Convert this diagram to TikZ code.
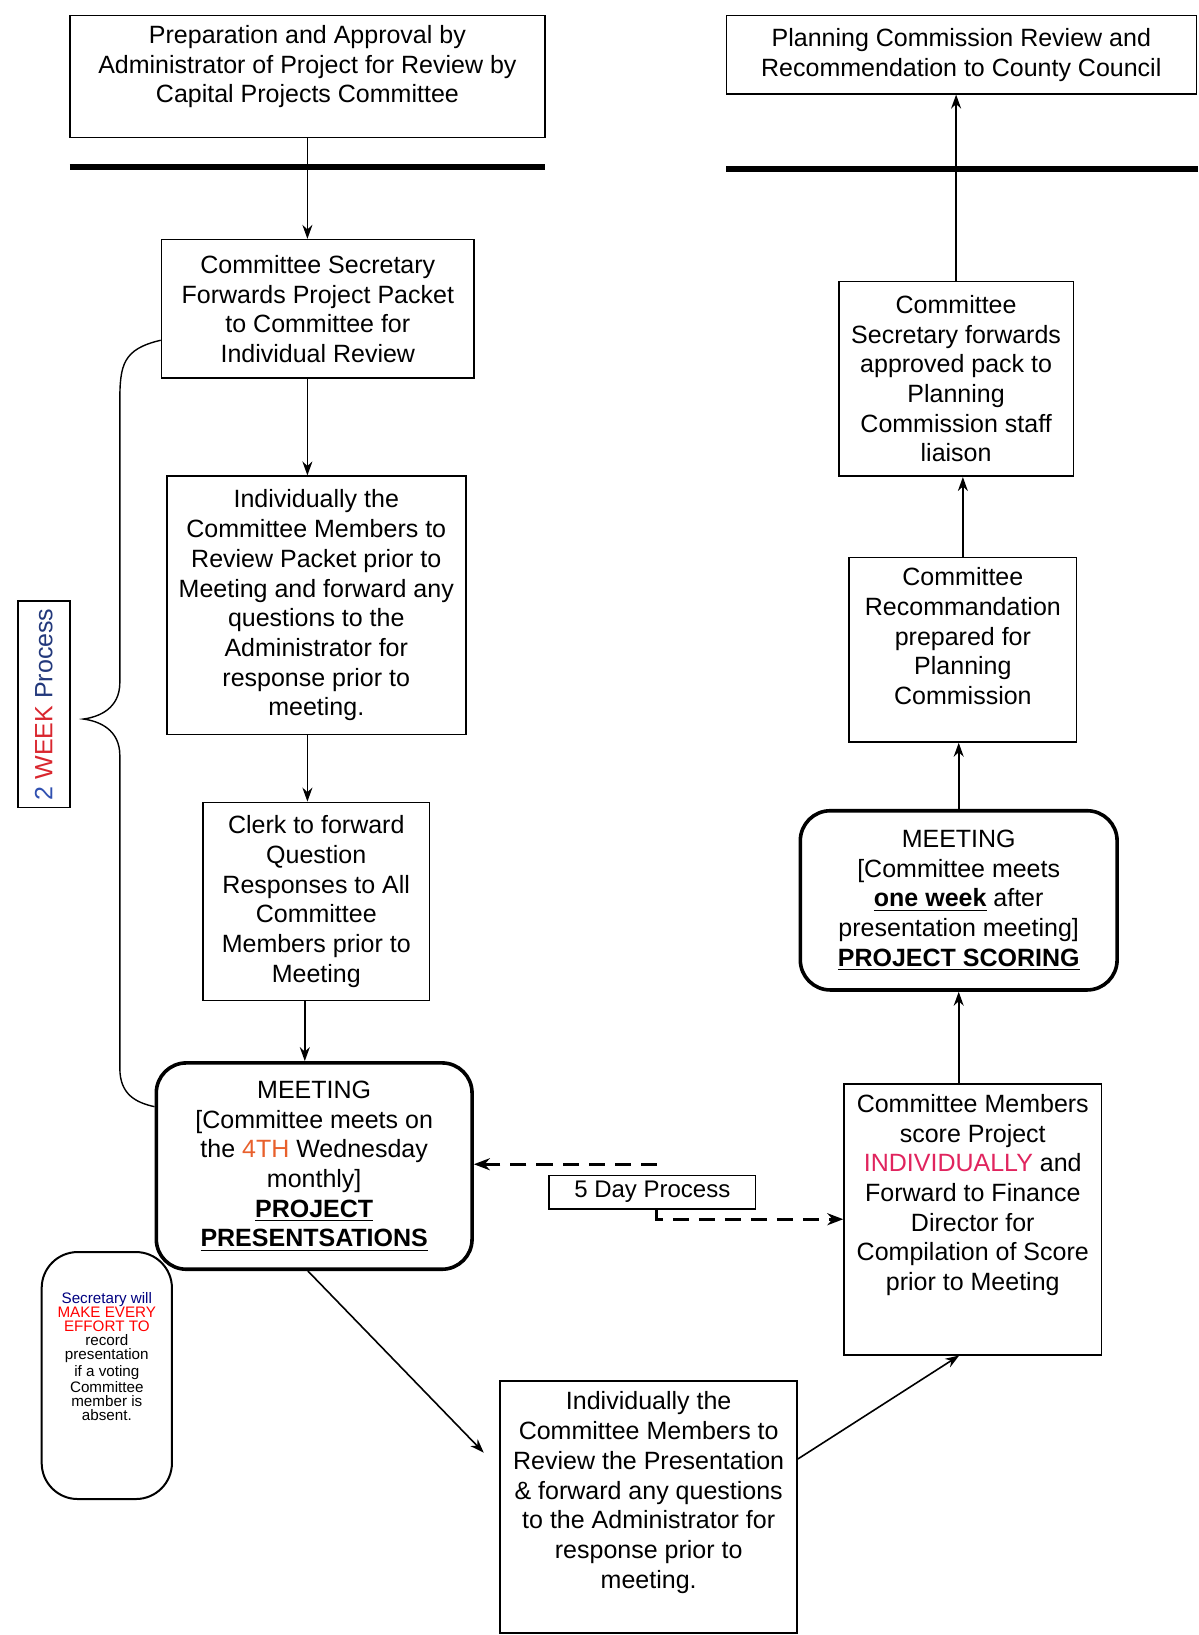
\documentclass[tikz,border=0pt]{standalone}
\usepackage{fontspec}
\setmainfont{Liberation Sans}
\usetikzlibrary{arrows.meta,calc}
\definecolor{fourth}{HTML}{E8602C}
\definecolor{indiv}{HTML}{E0245E}
\definecolor{weekred}{HTML}{D9262E}
\definecolor{weekblue}{HTML}{3050B0}
\newcommand\fs{\fontsize{12.5pt}{14.85pt}\selectfont}
\newcommand\fsmall{\fontsize{7.6pt}{7pt}\selectfont}
\def\pu{0.521pt}
\tikzset{
  box/.style={draw, line width=0.8pt, align=center, inner sep=2pt, font=\fs},
  meet/.style={box, line width=1.8pt, rounded corners=15pt},
  arr/.style={-{Stealth[length=7pt,width=5pt]}, line width=0.8pt},
  bar/.style={line width=3pt},
  dasharr/.style={dash pattern=on 8pt off 5pt, line width=1.4pt, -{Stealth[length=8pt,width=6pt]}},
  bracestyle/.style={line width=0.7pt},
}
\begin{document}
\begin{tikzpicture}[x=0.521pt, y=-0.521pt]
\useasboundingbox (0,0) rectangle (1150,1569);

% left column
\node[box, minimum width=456*\pu, minimum height=117*\pu] (A) at (295,73.5)
  {Preparation and Approval by\\Administrator of Project for Review by\\Capital Projects Committee\\[-2.3pt]\mbox{}};
\draw[bar] (67,160) -- (523,160);
\node[box, minimum width=300*\pu, minimum height=133*\pu] (B) at (305,296.5)
  {Committee Secretary\\Forwards Project Packet\\to Committee for\\Individual Review};
\node[box, minimum width=287*\pu, minimum height=248*\pu] (C) at (303.5,581)
  {Individually the\\Committee Members to\\Review Packet prior to\\Meeting and forward any\\questions to the\\Administrator for\\response prior to\\meeting.};
\node[box, minimum width=217*\pu, minimum height=190*\pu] (D) at (303.5,865)
  {Clerk to forward\\Question\\Responses to All\\Committee\\Members prior to\\Meeting};
\node[meet, minimum width=303*\pu, minimum height=198*\pu] (M1) at (301.5,1119)
  {MEETING\\{[}Committee meets on\\the \textcolor{fourth}{4TH} Wednesday\\monthly]\\\textbf{\underline{PROJECT}}\\\textbf{\underline{PRESENTSATIONS}}};
\node[draw, line width=1pt, rounded corners=18pt, minimum width=125*\pu, minimum height=237*\pu, align=center, inner sep=1pt, font=\fsmall] (E) at (102.5,1320)
  {\textcolor{blue!50!black}{Secretary will}\\\textcolor{red}{MAKE EVERY}\\\textcolor{red}{EFFORT TO}\\record\\presentation\\if a voting\\Committee\\member is\\absent.\\[12pt]\mbox{}};
\node[draw, line width=0.8pt, rotate=90, minimum width=198*\pu, minimum height=50*\pu, inner sep=1pt, font=\fs] (wk) at (42,676)
  {\textcolor{weekblue}{2} \textcolor{weekred}{WEEK} \textcolor{weekblue!70!black}{Process}};

% bottom middle
\node[box, minimum width=285*\pu, minimum height=242*\pu] (F) at (622.5,1446)
  {Individually the\\Committee Members to\\Review the Presentation\\\& forward any questions\\to the Administrator for\\response prior to\\meeting.\\[2pt]\mbox{}};
\node[draw, line width=0.8pt, minimum width=198*\pu, minimum height=32*\pu, inner sep=1pt, font=\fontsize{12pt}{14pt}\selectfont] (five) at (626,1144) {5 Day Process};

% right column
\node[box, minimum width=451*\pu, minimum height=75*\pu] (J) at (922.5,52.5)
  {Planning Commission Review and\\Recommendation to County Council};
\draw[bar] (697,162) -- (1150,162);
\node[box, minimum width=225*\pu, minimum height=187*\pu] (I) at (917.5,363.5)
  {Committee\\Secretary forwards\\approved pack to\\Planning\\Commission staff\\liaison};
\node[box, minimum width=218*\pu, minimum height=177*\pu] (H) at (924,623.5)
  {Committee\\Recommandation\\prepared for\\Planning\\Commission\\[-1.3pt]\mbox{}};
\node[meet, minimum width=304*\pu, minimum height=172*\pu] (M2) at (920,864)
  {MEETING\\{[}Committee meets\\\textbf{\underline{one week}} after\\presentation meeting]\\\textbf{\underline{PROJECT SCORING}}};
\node[box, minimum width=247*\pu, minimum height=260*\pu] (G) at (933.5,1170)
  {Committee Members\\score Project\\\textcolor{indiv}{INDIVIDUALLY} and\\Forward to Finance\\Director for\\Compilation of Score\\prior to Meeting\\[12pt]\mbox{}};

% connectors left column
\draw[arr] (A.south) -- (A.south |- B.north);
\draw[arr] (A.south |- B.south) -- (A.south |- C.north);
\draw[arr] (A.south |- C.south) -- (A.south |- D.north);
\coordinate (dd) at ($(D.south)+(-11,0)$);
\draw[arr] (dd) -- (dd |- M1.north);

% brace
\draw[bracestyle] ($(B.west)+(0,30)$) .. controls (118,335) and (115,350) .. (115,385)
  -- (115,655) .. controls (115,680) and (95,688) .. (80,690)
  .. controls (95,692) and (115,700) .. (115,725)
  -- (115,1025) .. controls (115,1050) and (130,1058) .. ($(M1.west)+(0,-57)$);

% bottom connectors
\draw[arr] ($(M1.south)+(-6,0)$) -- ($(F.west)+(-15,-52)$);
\draw[arr] ($(F.east)+(0,-46)$) -- ($(G.south)+(-13,0)$);

% dashed connectors
\coordinate (d1) at ($(five.north)+(4,-10)$);
\draw[dasharr] (d1) -- (d1 -| M1.east);
\draw[dasharr] ($(five.south)+(4,0)$) |- (G.west);

% right column connectors
\draw[arr] (G.north -| M2.south) -- (M2.south);
\draw[arr] (M2.north) -- (M2.north |- H.south);
\draw[arr] (H.north) -- (H.north |- I.south);
\draw[arr] (I.north) -- (I.north |- J.south);
\end{tikzpicture}
\end{document}
